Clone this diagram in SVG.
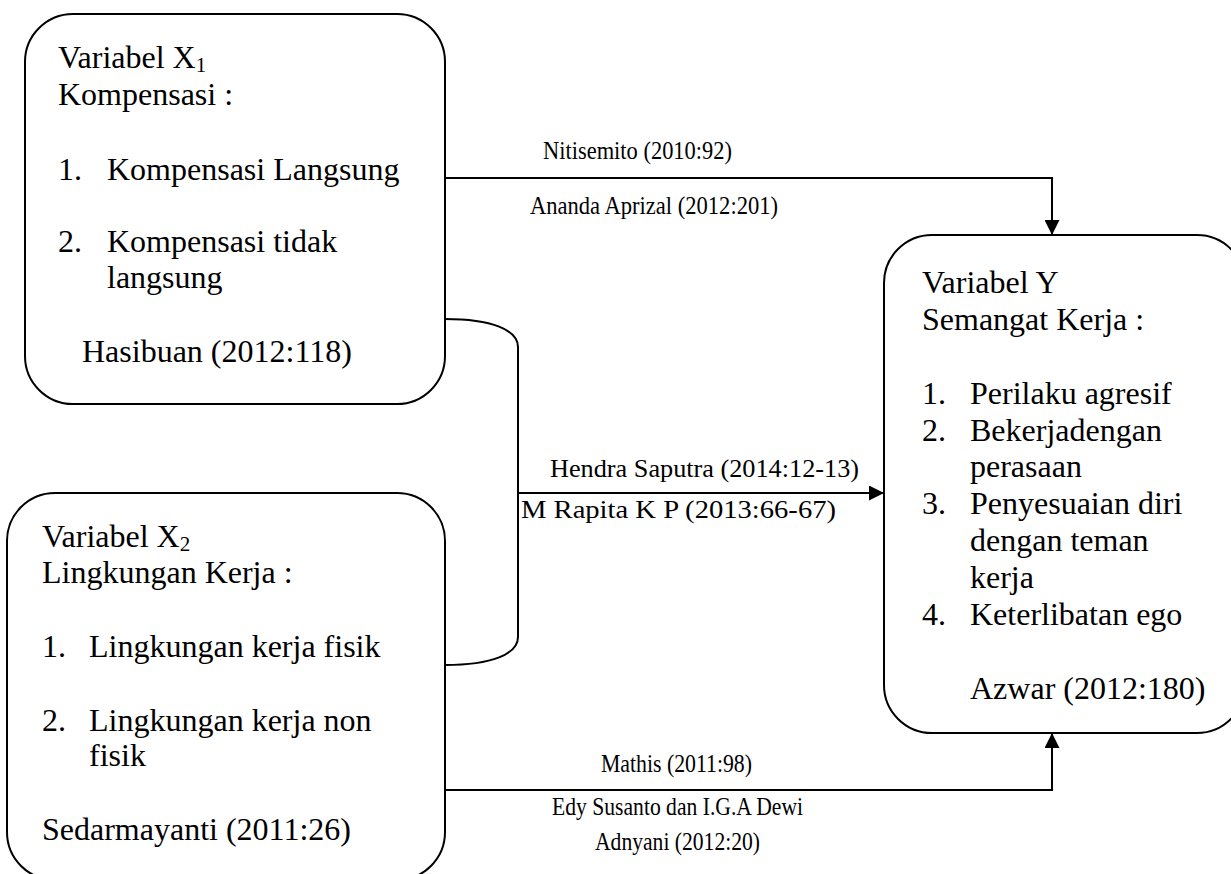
<svg xmlns="http://www.w3.org/2000/svg" width="1231" height="874" viewBox="0 0 1231 874">
<defs>
<style>
.box{fill:#fff;stroke:#000;stroke-width:2}
text{font-family:'Liberation Serif','Times New Roman',serif;fill:#000}
.t{font-size:32px}
.sub{font-size:21px}
.lbl{font-size:26px}
.ln{fill:none;stroke:#000;stroke-width:2}
</style>
<marker id="arr" viewBox="0 0 10 10" refX="10" refY="5" markerWidth="15" markerHeight="15" markerUnits="userSpaceOnUse" orient="auto">
<path d="M0,0 L10,5 L0,10 Z" fill="#000"/>
</marker>
</defs>
<rect width="1231" height="874" fill="#fff"/>

<g id="node-x1">
<rect class="box" x="25" y="14" width="420" height="390" rx="48" ry="48"/>
<text class="t" x="58" y="68">Variabel X<tspan class="sub" dy="4">1</tspan></text>
<text class="t" x="58" y="105">Kompensasi :</text>
<text class="t" x="58" y="180">1.</text>
<text class="t" x="107" y="180">Kompensasi Langsung</text>
<text class="t" x="58" y="252">2.</text>
<text class="t" x="107" y="252">Kompensasi tidak</text>
<text class="t" x="107" y="288">langsung</text>
<text class="t" x="82" y="362">Hasibuan (2012:118)</text>
</g>

<g id="node-x2">
<rect class="box" x="7" y="493" width="438" height="387" rx="48" ry="48"/>
<text class="t" x="42" y="547">Variabel X<tspan class="sub" dy="4">2</tspan></text>
<text class="t" x="42" y="583">Lingkungan Kerja :</text>
<text class="t" x="42" y="657">1.</text>
<text class="t" x="89" y="657">Lingkungan kerja fisik</text>
<text class="t" x="42" y="731">2.</text>
<text class="t" x="89" y="731">Lingkungan kerja non</text>
<text class="t" x="89" y="766">fisik</text>
<text class="t" x="42" y="840">Sedarmayanti (2011:26)</text>
</g>

<g id="node-y">
<rect class="box" x="884" y="235" width="361" height="498" rx="48" ry="48"/>
<text class="t" x="922" y="293">Variabel Y</text>
<text class="t" x="922" y="330">Semangat Kerja :</text>
<text class="t" x="922" y="404">1.</text>
<text class="t" x="970" y="404">Perilaku agresif</text>
<text class="t" x="922" y="441">2.</text>
<text class="t" x="970" y="441">Bekerjadengan</text>
<text class="t" x="970" y="477">perasaan</text>
<text class="t" x="922" y="514">3.</text>
<text class="t" x="970" y="514">Penyesuaian diri</text>
<text class="t" x="970" y="551">dengan teman</text>
<text class="t" x="970" y="588">kerja</text>
<text class="t" x="922" y="625">4.</text>
<text class="t" x="970" y="625">Keterlibatan ego</text>
<text class="t" x="970" y="699">Azwar (2012:180)</text>
</g>

<g id="connectors">
<path class="ln" d="M445,178 H1052 V235" marker-end="url(#arr)"/>
<path class="ln" d="M445,319 C492,319 518,330 518,347 V637 C518,654 492,665 445,665"/>
<path class="ln" d="M518,493 H884" marker-end="url(#arr)"/>
<path class="ln" d="M445,790 H1052 V733" marker-end="url(#arr)"/>
<text class="lbl" x="543" y="159" textLength="189" lengthAdjust="spacingAndGlyphs">Nitisemito (2010:92)</text>
<text class="lbl" x="530" y="214" textLength="248" lengthAdjust="spacingAndGlyphs">Ananda Aprizal (2012:201)</text>
<text class="lbl" x="550" y="477" textLength="309" lengthAdjust="spacingAndGlyphs">Hendra Saputra (2014:12-13)</text>
<text class="lbl" x="521" y="518" textLength="315" lengthAdjust="spacingAndGlyphs">M Rapita K P (2013:66-67)</text>
<text class="lbl" x="601" y="772" textLength="151" lengthAdjust="spacingAndGlyphs">Mathis (2011:98)</text>
<text class="lbl" x="552" y="815" textLength="251" lengthAdjust="spacingAndGlyphs">Edy Susanto dan I.G.A Dewi</text>
<text class="lbl" x="595" y="850" textLength="165" lengthAdjust="spacingAndGlyphs">Adnyani (2012:20)</text>
</g>
</svg>
